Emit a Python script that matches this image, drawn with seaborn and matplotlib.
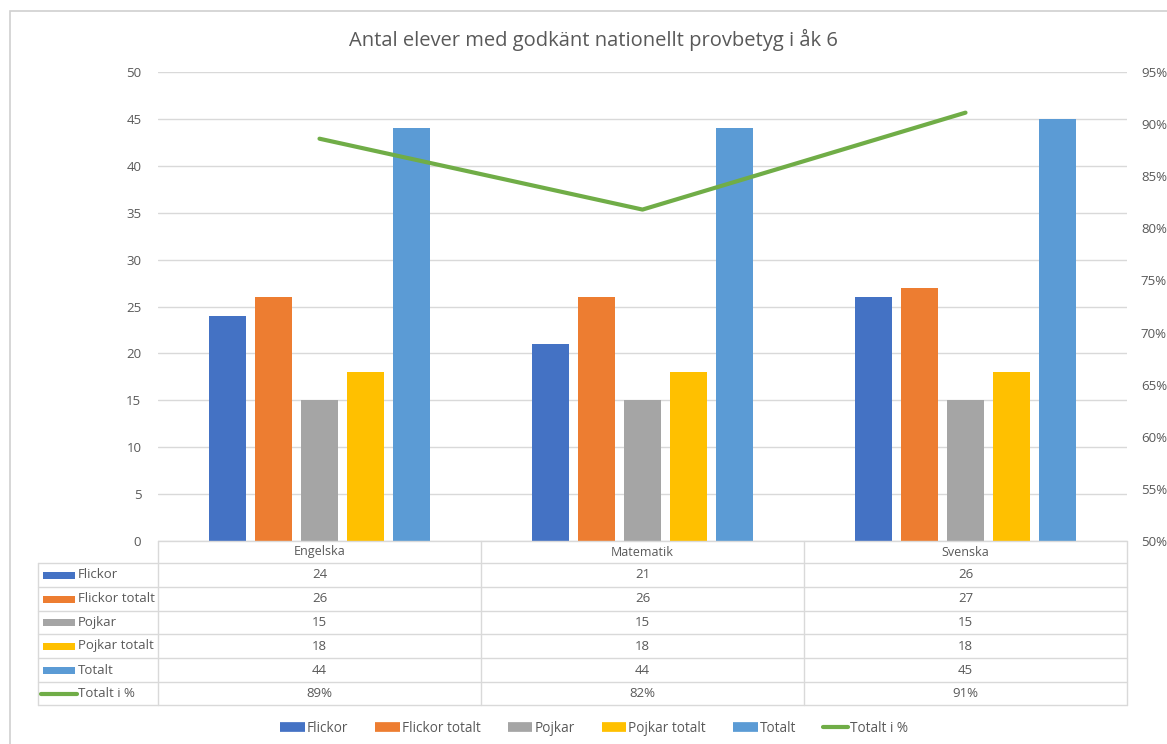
import matplotlib
matplotlib.use("Agg")
import matplotlib.pyplot as plt
import matplotlib.transforms as mtransforms
from matplotlib.lines import Line2D
from matplotlib.patches import Rectangle
import seaborn as sns
import pandas as pd
import numpy as np

# ---- data -------------------------------------------------------------
subjects = ["Engelska", "Matematik", "Svenska"]
flickor = [24, 21, 26]
flickor_totalt = [26, 26, 27]
pojkar = [15, 15, 15]
pojkar_totalt = [18, 18, 18]
totalt = [44, 44, 45]
totalt_pct = [0.886, 0.818, 0.911]

series_names = ["Flickor", "Flickor totalt", "Pojkar", "Pojkar totalt", "Totalt"]
series_values = [flickor, flickor_totalt, pojkar, pojkar_totalt, totalt]
line_name = "Totalt i %"

title = "Antal elever med godkänt nationellt provbetyg i åk 6"
left_ticks = [0, 5, 10, 15, 20, 25, 30, 35, 40, 45, 50]
right_ticks = [0.50, 0.55, 0.60, 0.65, 0.70, 0.75, 0.80, 0.85, 0.90, 0.95]

# ---- style ------------------------------------------------------------
bar_colors = ["#4472C4", "#ED7D31", "#A5A5A5", "#FFC000", "#5B9BD5"]
line_color = "#70AD47"
text_color = "#595959"
grid_color = "#D9D9D9"

sns.set_theme(style="white")
plt.rcParams["font.family"] = ["Open Sans", "DejaVu Sans"]

W, H = 1167, 744
fig = plt.figure(figsize=(W / 100, H / 100), dpi=100)


def fx(px):
    return px / W


def fy(py):
    return 1 - py / H


ax = fig.add_axes([fx(158), fy(541), fx(1127) - fx(158), fy(72) - fy(541)])

df = pd.DataFrame(
    [(s, name, v) for name, vals in zip(series_names, series_values)
     for s, v in zip(subjects, vals)],
    columns=["subject", "series", "value"],
)

sns.barplot(
    data=df, x="subject", y="value", hue="series", order=subjects,
    hue_order=series_names, palette=bar_colors, width=0.715, gap=0.2,
    saturation=1, legend=False, ax=ax, edgecolor="none",
)

ax.set_xlim(-0.5, len(subjects) - 0.5)
ax.set_ylim(0, 50)
ax.set_yticks(left_ticks)
ax.set_yticklabels([str(t) for t in left_ticks], color=text_color, fontsize=9.5)
ax.set_xticks([])
ax.set_xlabel("")
ax.set_ylabel("")
ax.yaxis.grid(True, color=grid_color, linewidth=1)
ax.set_axisbelow(True)
for sp in ax.spines.values():
    sp.set_visible(False)
ax.tick_params(axis="y", length=0, pad=12)

# percentage line on the secondary axis
ax2 = ax.twinx()
sns.lineplot(x=np.arange(len(subjects)), y=totalt_pct, color=line_color,
             linewidth=3, ax=ax2, legend=False)
ax2.set_ylim(0.50, 0.95)
ax2.set_yticks(right_ticks)
ax2.set_yticklabels([f"{t:.0%}" for t in right_ticks], color=text_color,
                    fontsize=9.5)
ax2.tick_params(axis="y", length=0, pad=10)
for sp in ax2.spines.values():
    sp.set_visible(False)
ax2.set_ylabel("")

# title
fig.text(fx(593), fy(40), title, ha="center", va="center", fontsize=14.5,
         color=text_color)

# outer chart frame (left and top edges fall inside the canvas)
fig.add_artist(Rectangle((fx(10), fy(800)), fx(1250) - fx(10), fy(11) - fy(800),
                         transform=fig.transFigure, fill=False,
                         edgecolor="#D0D0D0", linewidth=1.2))

# ---- data table under the plot -----------------------------------------
row_edges = [541, 563, 587, 611, 634, 658, 682, 705]
col_edges_px = [158, 481, 804, 1127]
label_left = 38


def hline(y, x0, x1):
    fig.add_artist(Line2D([fx(x0), fx(x1)], [fy(y), fy(y)],
                          transform=fig.transFigure, color=grid_color, lw=1))


def vline(x, y0, y1):
    fig.add_artist(Line2D([fx(x), fx(x)], [fy(y0), fy(y1)],
                          transform=fig.transFigure, color=grid_color, lw=1))


hline(row_edges[0], col_edges_px[0], col_edges_px[-1])
for y in row_edges[1:]:
    hline(y, label_left, col_edges_px[-1])
for x in col_edges_px:
    vline(x, row_edges[0], row_edges[-1])
vline(label_left, row_edges[1], row_edges[-1])

blend = mtransforms.blended_transform_factory(ax.transData, fig.transFigure)


def row_mid(i):
    return fy((row_edges[i] + row_edges[i + 1]) / 2)


for j, s in enumerate(subjects):
    fig.text(j, row_mid(0), s, transform=blend, ha="center", va="center",
             fontsize=9, color=text_color)

table_rows = [(name, vals, bar_colors[k], False, [f"{v:d}" for v in vals])
              for k, (name, vals) in enumerate(zip(series_names, series_values))]
table_rows.append((line_name, totalt_pct, line_color, True,
                   [f"{v:.0%}" for v in totalt_pct]))

for i, (name, vals, col, is_line, labels) in enumerate(table_rows, start=1):
    ym = row_mid(i)
    if is_line:
        fig.add_artist(Line2D([fx(41), fx(77)], [ym, ym],
                              transform=fig.transFigure, color=col, lw=3))
    else:
        fig.add_artist(Rectangle((fx(43), ym - 3.5 / H), fx(32), 7 / H,
                                 transform=fig.transFigure, color=col,
                                 linewidth=0))
    fig.text(fx(78), ym, name, ha="left", va="center", fontsize=9.5,
             color=text_color)
    for j, lab in enumerate(labels):
        fig.text(j, ym, lab, transform=blend, ha="center", va="center",
                 fontsize=9.5, color=text_color)

# ---- bottom legend -----------------------------------------------------
handles = [Line2D([], [], color=c, lw=7, solid_capstyle="butt") for c in bar_colors]
handles.append(Line2D([], [], color=line_color, lw=3, solid_capstyle="round"))
fig.legend(handles, series_names + [line_name], loc="center",
           bbox_to_anchor=(fx(594), fy(728)), ncol=6, frameon=False,
           fontsize=9.8, labelcolor=text_color, handlelength=1.8,
           handletextpad=0.15, columnspacing=2.0)

fig.savefig("out.png", dpi=100, facecolor="white")
